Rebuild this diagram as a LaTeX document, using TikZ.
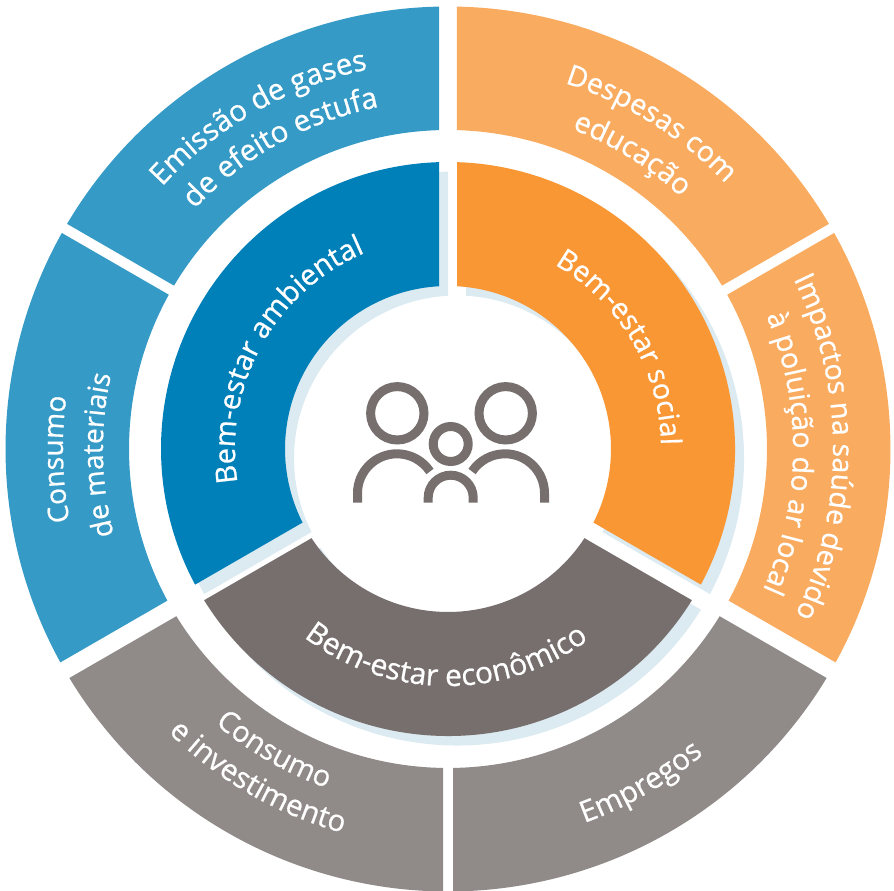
\documentclass[tikz,border=0pt]{standalone}
\usepackage{fontspec}
\setmainfont[FakeBold=0.7]{Open Sans}
\usetikzlibrary{decorations.text}
\definecolor{bluein}{HTML}{0080B8}
\definecolor{blueout}{HTML}{359AC6}
\definecolor{orangein}{HTML}{F99735}
\definecolor{orangeout}{HTML}{F9AB5F}
\definecolor{grayin}{HTML}{766F6E}
\definecolor{grayout}{HTML}{908B89}
\definecolor{softblue}{HTML}{DCEAF1}
\newcommand{\ringsector}[7]{% colour, r-in, r-out, angle1, gap1, angle2, gap2
  \pgfmathsetmacro{\oa}{#4+asin(#5/#3)}\pgfmathsetmacro{\ob}{#6-asin(#7/#3)}
  \pgfmathsetmacro{\ia}{#4+asin(#5/#2)}\pgfmathsetmacro{\ib}{#6-asin(#7/#2)}
  \fill[fill=#1] (\oa:#3pt) arc[start angle=\oa,end angle=\ob,radius=#3pt]
    -- (\ib:#2pt) arc[start angle=\ib,end angle=\ia,radius=#2pt] -- cycle;}
\newcommand{\cwtext}[4]{% radius, mid angle, size, text : tops outward
  \pgfmathsetmacro{\sa}{#2+70}\pgfmathsetmacro{\sb}{#2-70}
  \path[decorate,decoration={text along path,text align=center,
    text={|\fontsize{#3}{#3}\selectfont\color{white}|#4}}]
    (\sa:#1pt) arc[start angle=\sa,end angle=\sb,radius=#1pt];}
\newcommand{\ccwtext}[4]{% radius, mid angle, size, text : tops inward
  \pgfmathsetmacro{\sa}{#2-70}\pgfmathsetmacro{\sb}{#2+70}
  \path[decorate,decoration={text along path,text align=center,
    text={|\fontsize{#3}{#3}\selectfont\color{white}|#4}}]
    (\sa:#1pt) arc[start angle=\sa,end angle=\sb,radius=#1pt];}
\tikzset{iconline/.style={draw=grayin,line width=9pt,line cap=butt}}
\begin{document}
\begin{tikzpicture}[x=1pt,y=1pt]
\useasboundingbox (0,0) rectangle (894,891);
\begin{scope}[shift={(448,442)}]
  % soft shadows of the inner ring
  \begin{scope}[shift={(9,-9.5)}]
    \ringsector{softblue}{163}{287}{90}{9}{210}{9}
    \ringsector{softblue}{163}{287}{-30}{9}{90}{9}
    \ringsector{softblue}{163}{287}{210}{9}{330}{9}
  \end{scope}
  % outer ring
  \ringsector{blueout}{319}{442.5}{90}{9}{150}{4.5}
  \ringsector{blueout}{319}{442.5}{150}{6}{210}{9}
  \ringsector{grayout}{319}{442.5}{210}{9}{270}{5}
  \ringsector{grayout}{319}{442.5}{270}{5}{330}{9}
  \ringsector{orangeout}{319}{442.5}{-30}{9}{30}{6}
  \ringsector{orangeout}{319}{442.5}{30}{4.5}{90}{9}
  % inner ring
  \ringsector{bluein}{163}{287}{90}{9}{210}{9}
  \ringsector{orangein}{163}{287}{-30}{9}{90}{9}
  \ringsector{grayin}{163}{287}{210}{9}{330}{9}
  % labels
  \cwtext{388}{119.7}{29.5}{Emissão de gases}
  \cwtext{349}{119}{29.5}{de efeito estufa}
  \cwtext{384}{58}{28.5}{Despesas com}
  \cwtext{343}{58}{29}{educação}
  \cwtext{385}{0.3}{28.5}{Impactos na saúde devido}
  \cwtext{345}{-0.7}{28.5}{à poluição do ar local}
  \cwtext{385}{181.5}{28}{Consumo}
  \cwtext{345}{181}{28}{de materiais}
  \cwtext{213}{151}{29}{Bem-estar ambiental}
  \cwtext{213}{30.5}{28.5}{Bem-estar social}
  \ccwtext{237}{269.5}{30}{Bem-estar econômico}
  \ccwtext{360}{240}{29}{Consumo}
  \ccwtext{398}{240}{29.5}{e investimento}
  \ccwtext{398}{300}{29.5}{Empregos}
\end{scope}
% people icon
\draw[iconline] (397.3,477.7) circle[radius=26.7];
\draw[iconline] (505.7,477.7) circle[radius=26.7];
\draw[iconline] (450.7,447) circle[radius=17.5];
\draw[iconline] (357.5,388.3) -- (357.5,397.7) arc[start angle=180,end angle=33.5,radius=39.5];
\draw[iconline] (544.5,388.3) -- (544.5,397.7) arc[start angle=0,end angle=146.5,radius=39.5];
\draw[iconline] (428.2,388.3) -- (428.2,393.3) arc[start angle=180,end angle=0,radius=22.5] -- (473.2,388.3);
\end{tikzpicture}
\end{document}
